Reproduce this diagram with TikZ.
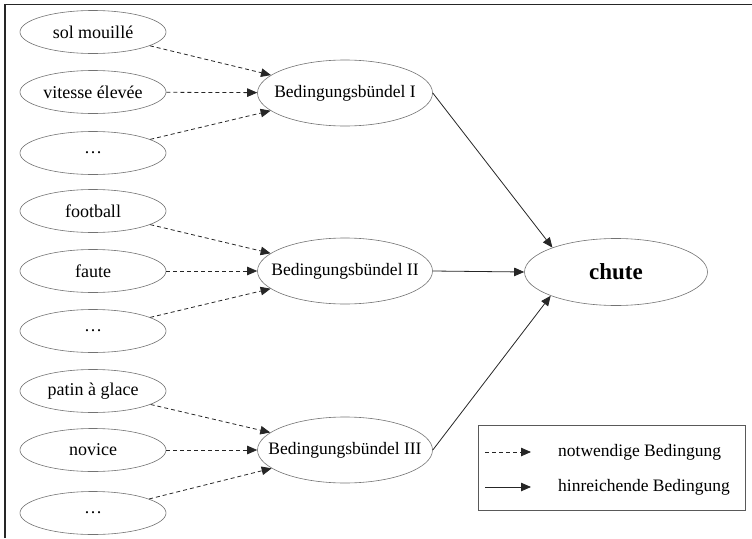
\documentclass[tikz,border=0pt]{standalone}
\usepackage{fontspec}
\setmainfont{Liberation Serif}
\usetikzlibrary{arrows.meta,shapes.geometric}
\newcommand{\zw}[1]{\makebox[0pt][c]{#1}}
\tikzset{
  cause/.style={ellipse,draw=black!55,line width=0.6pt,minimum width=146pt,minimum height=43pt,inner sep=0pt,font=\fontsize{18}{20}\selectfont},
  bundle/.style={ellipse,draw=black!55,line width=0.6pt,minimum width=175pt,minimum height=66pt,inner sep=0pt,font=\fontsize{17.5}{20}\selectfont},
  effect/.style={ellipse,draw=black!55,line width=0.6pt,minimum width=183pt,minimum height=67pt,inner sep=0pt,font=\fontsize{23}{25}\selectfont\bfseries},
  nec/.style={draw=black!85,line width=0.8pt,dash pattern=on 4pt off 3pt,-{Triangle[length=10pt,width=8.5pt]}},
  suf/.style={draw=black!85,line width=0.8pt,-{Triangle[length=10pt,width=8.5pt]}},
  legtext/.style={anchor=west,inner sep=0pt,font=\fontsize{17.5}{20}\selectfont},
}
\begin{document}
\begin{tikzpicture}[x=1pt,y=-1pt]
\useasboundingbox (0,0) rectangle (752,538);
\draw[black!85,line width=1.5pt] (5,538) -- (5,4.5) -- (752,4.5);

\node[cause] (a1) at (93,32) {\zw{sol mouillé}};
\node[cause] (a2) at (93,92) {\zw{vitesse élevée}};
\node[cause] (a3) at (93,153) {\zw{…}};
\node[cause] (b1) at (93,211) {\zw{football}};
\node[cause] (b2) at (93,271) {\zw{faute}};
\node[cause] (b3) at (93,331) {\zw{…}};
\node[cause] (c1) at (93,391) {\zw{patin à glace}};
\node[cause] (c2) at (93,450) {\zw{novice}};
\node[cause] (c3) at (93,513) {\zw{…}};

\node[bundle] (A) at (345,93) {\zw{Bedingungsbündel I}};
\node[bundle] (B) at (345,271) {\zw{Bedingungsbündel II}};
\node[bundle] (C) at (345,450) {\zw{Bedingungsbündel III}};

\node[effect] (E) at (616,272) {\zw{chute}};

\foreach \s/\t in {a1/A,a2/A,a3/A,b1/B,b2/B,b3/B,c1/C,c2/C,c3/C}
  \draw[nec] (\s) -- (\t);

\draw[suf] (A.east) -- (E.159);
\draw[suf] (B.east) -- (E.west);
\draw[suf] (C.east) -- (E.200);

\draw[draw=black!65,line width=1pt] (478,425) rectangle (745,510);
\coordinate (l1s) at (485,452);
\coordinate (l1e) at (531,452);
\coordinate (l2s) at (485,487);
\coordinate (l2e) at (531,487);
\draw[nec] (l1s) -- (l1e);
\draw[suf] (l2s) -- (l2e);
\node[legtext] (t1) at (558,452) {notwendige Bedingung};
\node[legtext] (t2) at (558,487) {hinreichende Bedingung};
\end{tikzpicture}
\end{document}
